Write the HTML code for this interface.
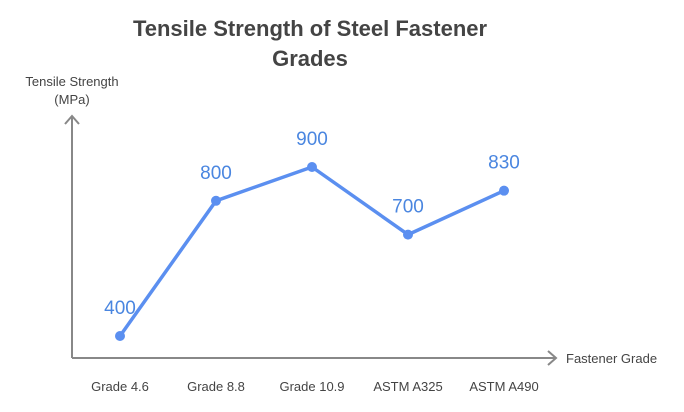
<!DOCTYPE html>
<html><head><meta charset="utf-8"><style>
body{margin:0;background:#fff;}
svg{display:block;font-family:"Liberation Sans",sans-serif;}
</style></head><body>
<svg id="chart" width="684" height="412" viewBox="0 0 684 412">
<text x="310" y="36" text-anchor="middle" font-size="22" font-weight="bold" fill="#444"><tspan x="310" y="36">Tensile Strength of Steel Fastener</tspan><tspan x="310" y="66">Grades</tspan></text>
<text x="72" y="86" text-anchor="middle" font-size="13" fill="#444"><tspan x="72" y="86">Tensile Strength</tspan><tspan x="72" y="104">(MPa)</tspan></text>
<text x="566" y="363" font-size="13" fill="#444">Fastener Grade</text>
<g stroke="#888" stroke-width="2" fill="none">
<path d="M72 358 V116 M65 124 L72 116 L79 124"/>
<path d="M72 358 H556 M548 351 L556 358 L548 365"/>
</g>
<g id="marks"></g>
</svg>
<script>
const categories=["Grade 4.6","Grade 8.8","Grade 10.9","ASTM A325","ASTM A490"];
const values=[400,800,900,700,830];
const labels=["400","800","900","700","830"];
const ns="http://www.w3.org/2000/svg";
function xPos(i){return 120+i*96;}
function yPos(v){return 336-(v-400)*0.338;}
const g=document.getElementById("marks");
function mk(t,a){const e=document.createElementNS(ns,t);for(const k in a)e.setAttribute(k,a[k]);g.appendChild(e);return e;}
const line=mk("polyline",{points:values.map((v,i)=>xPos(i)+","+yPos(v)).join(" "),fill:"none",stroke:"#5b8ff0","stroke-width":3.5,"stroke-linejoin":"round"});


values.forEach((v,i)=>{
 const c=mk("circle",{cx:xPos(i),cy:yPos(v),r:5,fill:"#5b8ff0"});
 
 
 const t=mk("text",{x:xPos(i),y:yPos(v)-22,"text-anchor":"middle","font-size":19,fill:"#4a86e0"});
 t.textContent=labels[i];
 
 
 const c2=mk("text",{x:xPos(i),y:391,"text-anchor":"middle","font-size":13,fill:"#444"});
 c2.textContent=categories[i];
 
 
});
</script>
</body></html>
